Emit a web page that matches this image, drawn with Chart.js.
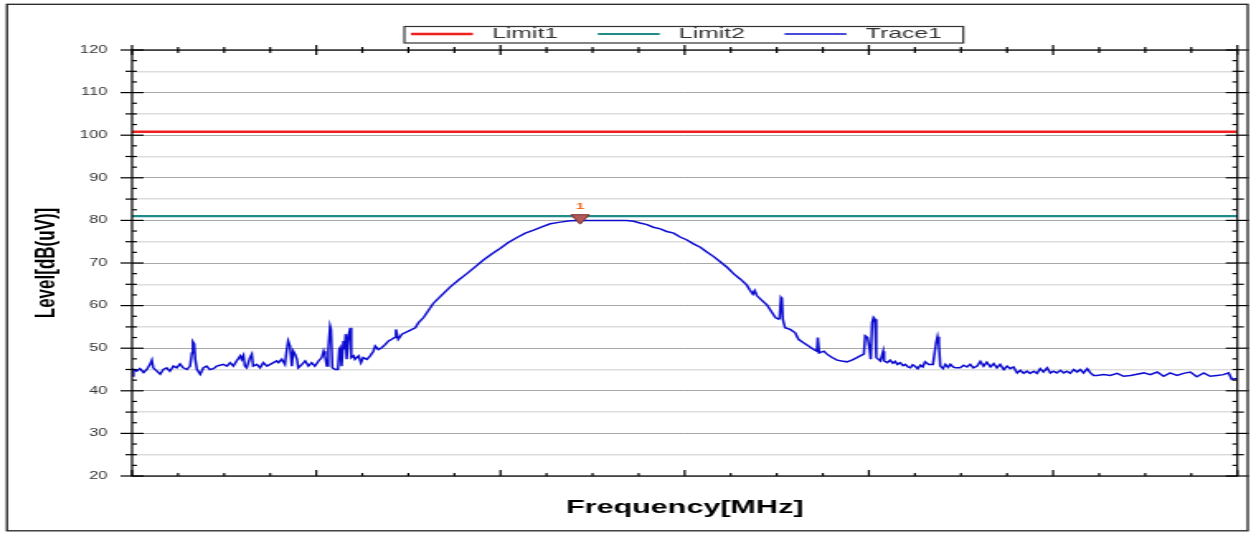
<!DOCTYPE html>
<html>
<head>
<meta charset="utf-8">
<title>Level vs Frequency</title>
<script src="https://cdn.jsdelivr.net/npm/chart.js@4.4.1/dist/chart.umd.min.js"></script>
<style>
    html, body { margin: 0; padding: 0; background: #fff; }
</style>
</head>
<body>
<!-- drawn narrow, shown stretched like the original screenshot -->
<canvas id="chart" width="758" height="533" style="width:1251px;height:533px"></canvas>
<script>
// --- Data ---
const xMin = 0, xMax = 240;          // frequency axis (no labels shown)
const yMin = 20, yMax = 120;         // Level[dB(uV)]

const limit1Freq = [0, 240];
const limit1Level = [100.8, 100.8];
const limit2Freq = [0, 240];
const limit2Level = [81.0, 81.0];

const markerFreq = [97.3];
const markerLevel = [80.6];
const markerText = ['1'];

const traceFreq = [
    0.0, 0.3, 1.0, 1.7, 2.5, 3.2, 3.9, 4.3, 4.6, 5.4, 6.1, 6.8, 7.5, 8.2, 9.0, 9.7,
    10.4, 11.1, 11.9, 12.6, 13.0, 13.2, 13.5, 13.7, 14.1, 14.8, 15.5, 16.2, 16.9, 17.7,
    18.4, 19.1, 19.8, 20.6, 21.3, 22.0, 22.7, 23.5, 23.8, 24.2, 24.5, 24.9, 25.6, 26.0,
    26.3, 27.1, 27.8, 28.5, 29.3, 30.0, 30.7,
    31.4, 31.8, 32.5, 33.2, 33.6, 33.9, 34.3, 34.7, 35.0, 35.4, 35.8, 36.1, 36.9, 37.6,
    38.3, 39.0, 39.7, 40.5, 41.2, 41.6, 41.9, 42.3, 42.6, 43.0, 43.2, 43.5, 44.1, 44.7,
    45.0, 45.2, 45.5, 45.9, 46.1, 46.4, 46.6, 47.0, 47.4, 47.6, 48.1, 48.4, 49.2, 49.7,
    50.2, 51.0, 51.7, 52.4, 52.8, 53.5, 54.2, 55.0, 55.7, 56.4, 57.0, 57.3, 57.8, 58.6,
    60.0, 61.5, 62.2, 63.3,
    65.4, 67.3, 69.1, 70.9, 72.7, 74.5, 76.3, 78.1, 79.9, 81.7, 83.6, 85.4, 87.2, 89.0,
    90.8, 93.0, 95.1, 97.3, 100.2, 102.3, 105.3, 107.4, 108.9, 110.3, 111.8, 113.2, 114.7,
    116.1, 117.6, 119.0, 120.5, 121.9, 123.4, 124.8, 126.3, 127.7, 129.2, 130.6, 132.1,
    133.5, 134.1, 134.8, 135.2, 135.7, 136.7, 137.9,
    139.0, 139.7, 140.4, 140.6, 140.9, 141.1, 141.3, 141.8, 142.9, 144.0, 144.7, 145.8,
    146.9, 148.0, 148.7, 148.9, 149.2, 150.2, 150.9, 152.0, 153.1, 154.1, 155.2, 156.3,
    157.4, 158.1, 158.9, 159.2, 159.7, 160.1, 160.4, 160.7, 161.0, 161.3, 161.6, 162.5,
    163.1, 163.3, 164.0, 164.6, 165.2, 165.7, 166.2, 166.8, 167.4, 167.9, 168.5, 169.0,
    169.5, 170.1, 170.6, 171.2, 171.7, 172.2, 173.0, 173.9, 174.6, 174.9, 175.2, 175.5,
    176.1, 176.6, 177.2, 177.7, 178.3, 178.8,
    179.8, 180.6, 181.3, 182.0, 182.7, 183.5, 184.2, 184.9, 185.6, 186.4, 187.1, 187.8,
    188.5, 189.3, 190.0, 190.7, 191.4, 192.2, 192.9, 193.6, 194.3, 195.0, 195.8, 196.5,
    197.2, 197.9, 198.7, 199.4, 200.1, 200.8, 201.6, 202.3, 203.0, 203.7, 204.5, 205.2,
    205.9, 206.6, 207.4, 208.1, 208.8, 209.5, 211.0, 212.4, 213.9, 215.3, 216.8, 218.2,
    219.7, 221.1, 222.6, 224.0, 225.4, 226.9, 228.3, 229.8, 231.2, 232.7, 234.1, 235.6,
    237.0, 238.1, 238.8, 240.0
];
const traceLevel = [
    43.5, 45.0, 44.6, 45.2, 44.3, 45.0, 46.2, 47.2, 45.4, 44.6, 43.9, 45.0, 45.4, 44.6, 45.8, 45.4,
    46.3, 45.4, 45.0, 45.8, 48.9, 51.5, 51.0, 47.5, 45.0, 43.9, 45.4, 45.8, 45.0, 45.2,
    45.8, 46.0, 46.2, 45.8, 46.6, 45.8, 47.0, 48.2, 47.4, 48.3, 45.8, 45.4, 47.8, 48.6,
    45.8, 46.2, 45.4, 46.6, 45.8, 46.2, 46.6,
    47.0, 46.6, 47.4, 46.2, 49.7, 51.7, 50.5, 45.8, 49.3, 48.6, 47.4, 45.4, 46.2, 47.0,
    45.8, 46.6, 45.8, 47.0, 47.8, 49.3, 48.2, 45.8, 49.7, 55.2, 54.4, 45.4, 45.0, 45.0,
    49.7, 50.1, 45.8, 51.7, 49.7, 53.3, 47.4, 53.0, 54.8, 47.8, 48.2, 47.4, 48.2, 46.6,
    47.8, 47.4, 48.2, 49.3, 50.5, 49.7, 50.1, 50.9, 51.7, 52.1, 52.5, 54.4, 52.1, 53.3,
    54.0, 54.8, 56.0, 57.2,
    60.5, 62.5, 64.4, 66.0, 67.5, 69.1, 70.7, 72.1, 73.4, 74.8, 76.0, 77.0, 77.7, 78.5,
    79.2, 79.6, 79.9, 80.0, 80.0, 80.0, 80.0, 80.0, 79.8, 79.4, 79.0, 78.4, 78.0,
    77.4, 77.0, 76.1, 75.4, 74.5, 73.7, 72.6, 71.5, 70.3, 69.0, 67.5, 66.2,
    64.8, 63.7, 62.7, 63.5, 62.3, 61.3, 60.1,
    58.3, 57.2, 56.8, 57.0, 61.9, 61.6, 56.8, 54.8, 54.4, 53.6, 52.1, 51.3,
    50.5, 49.7, 49.3, 52.5, 48.9, 49.3, 48.6, 47.8, 47.2, 47.0, 46.8, 47.2,
    47.8, 48.2, 48.6, 52.9, 52.5, 50.1, 47.4, 56.0, 57.2, 56.8, 47.8, 47.0,
    49.3, 47.0, 46.6, 47.2, 46.5, 46.9, 46.2, 46.6, 45.9, 46.2, 45.6, 45.4,
    46.1, 45.7, 45.2, 46.0, 45.6, 46.8, 46.2, 46.2, 51.3, 52.7, 50.9, 45.8,
    45.2, 46.2, 45.5, 46.2, 45.6, 45.4,
    45.4, 46.0, 45.6, 46.2, 45.4, 45.8, 46.9, 45.8, 46.7, 45.6, 46.4, 45.4,
    46.2, 45.0, 45.8, 45.2, 45.6, 44.2, 44.8, 44.1, 44.6, 44.1, 44.6, 44.1,
    45.2, 44.4, 45.4, 44.2, 44.6, 44.2, 44.8, 44.2, 44.6, 44.1, 45.0, 44.4,
    45.0, 44.2, 45.2, 44.2, 43.6, 43.6, 43.8, 43.6, 44.1, 43.4, 43.6, 43.9,
    44.2, 43.8, 44.4, 43.4, 44.2, 43.6, 44.1, 44.4, 43.3, 44.2, 43.4, 43.6,
    43.8, 44.2, 42.7, 42.9
];

const toPoints = (xs, ys) => xs.map((x, i) => ({ x: x, y: ys[i] }));

const FONT = "'Liberation Sans', Arial, sans-serif";

// --- Plugins: outer frame, plot box with inward ticks, legend box, marker label ---
const decorations = {
    id: 'decorations',
    afterLayout(chart) {
        // legend row sits a little left of the plot centre in the original
        chart.legend.left -= 5;
        chart.legend.right -= 5;
    },
    afterDatasetsDraw(chart) {
        const { ctx, chartArea: a, scales: { x, y } } = chart;
        ctx.save();
        ctx.strokeStyle = '#000';
        ctx.lineWidth = 1.2;
        ctx.strokeRect(a.left, a.top, a.right - a.left, a.bottom - a.top);

        const seg = (x1, y1, x2, y2) => {
            ctx.beginPath();
            ctx.moveTo(x1, y1);
            ctx.lineTo(x2, y2);
            ctx.stroke();
        };

        y.ticks.forEach(t => {
            const py = y.getPixelForValue(t.value);
            let out = 0, inn = 3;
            if (t.value % 10 === 0) { out = 7; inn = 7; }
            else if (t.value % 5 === 0) { out = 4; inn = 3; }
            seg(a.left - out, py, a.left + inn, py);
            seg(a.right - inn, py, a.right + out, py);
        });
        x.ticks.forEach(t => {
            const px = x.getPixelForValue(t.value);
            const major = t.value % 40 === 0;
            seg(px, a.bottom, px, a.bottom - (major ? 6 : 3));
            seg(px, a.top - (major ? 5 : 3), px, a.top + (major ? 5 : 3));
        });

        // marker label
        const meta = chart.getDatasetMeta(0);
        ctx.fillStyle = '#f26a1b';
        ctx.font = 'bold 9px ' + FONT;
        ctx.textAlign = 'center';
        ctx.textBaseline = 'middle';
        meta.data.forEach((pt, i) => ctx.fillText(markerText[i], pt.x, pt.y - 11));
        ctx.restore();
    },
    afterDraw(chart) {
        const { ctx, legend } = chart;
        ctx.save();
        ctx.strokeStyle = '#222';
        ctx.lineWidth = 1.3;
        ctx.strokeRect(4.2, 4.3, 751.8, 526.5);

        const hb = legend.legendHitBoxes;
        if (hb && hb.length) {
            const first = hb[0], last = hb[hb.length - 1];
            const left = first.left - 4;
            const right = last.left + last.width + 13;
            ctx.lineWidth = 1.2;
            ctx.strokeStyle = '#333';
            ctx.strokeRect(left, first.top, right - left, first.height + 1.5);
        }
        ctx.restore();
    }
};

new Chart(document.getElementById('chart'), {
    type: 'line',
    data: {
        datasets: [
            {
                label: 'Marker1',
                data: toPoints(markerFreq, markerLevel),
                showLine: false,
                pointStyle: 'triangle',
                rotation: 180,
                pointRadius: 6.3,
                backgroundColor: '#b25a5a',
                borderColor: '#7d3030',
                pointBorderWidth: 1
            },
            {
                label: 'Limit1',
                data: toPoints(limit1Freq, limit1Level),
                borderColor: '#f21f1f',
                backgroundColor: '#f21f1f',
                borderWidth: 2.4,
                pointRadius: 0
            },
            {
                label: 'Limit2',
                data: toPoints(limit2Freq, limit2Level),
                borderColor: '#1f8c8a',
                backgroundColor: '#1f8c8a',
                borderWidth: 2.2,
                pointRadius: 0
            },
            {
                label: 'Trace1',
                data: toPoints(traceFreq, traceLevel),
                borderColor: '#0c0cd0',
                backgroundColor: '#0c0cd0',
                borderWidth: 1.5,
                pointRadius: 0,
                tension: 0
            }
        ]
    },
    options: {
        responsive: false,
        animation: false,
        devicePixelRatio: 1,
        layout: { padding: { top: 2.5, left: 0, right: 8.3, bottom: 0 } },
        plugins: {
            tooltip: { enabled: false },
            legend: {
                position: 'top',
                fullSize: false,
                maxHeight: 47.5,
                labels: {
                    usePointStyle: true,
                    pointStyle: 'line',
                    pointStyleWidth: 37.5,
                    boxHeight: 15,
                    padding: 24,
                    color: '#333',
                    font: { family: FONT, size: 15 },
                    filter: item => item.text.indexOf('Marker') === -1,
                    generateLabels: chart =>
                        Chart.defaults.plugins.legend.labels.generateLabels(chart)
                            .map(item => Object.assign(item, { text: ' ' + item.text }))
                }
            }
        },
        scales: {
            x: {
                type: 'linear',
                min: xMin,
                max: xMax,
                ticks: { display: false, stepSize: 10 },
                grid: { display: false, drawTicks: false },
                border: { display: false },
                title: {
                    display: true,
                    text: 'Frequency[MHz]',
                    color: '#000',
                    font: { family: FONT, size: 18.5, weight: 'bold' },
                    padding: { top: 0, bottom: 14 }
                },
                afterFit: s => { s.height = 57; }
            },
            y: {
                min: yMin,
                max: yMax,
                ticks: {
                    stepSize: 2.5,
                    autoSkip: false,
                    padding: 15,
                    color: '#333',
                    font: { family: FONT, size: 10 },
                    callback: v => (v % 10 === 0 ? v : '')
                },
                grid: {
                    drawTicks: false,
                    color: c => c.tick.value % 10 === 0 ? '#a8a8a8'
                        : (c.tick.value % 5 === 0 ? '#dddddd' : 'rgba(0,0,0,0)'),
                    lineWidth: c => c.tick.value % 10 === 0 ? 1 : 1.4
                },
                border: { display: false },
                title: {
                    display: true,
                    text: 'Level[dB(uV)]',
                    color: '#000',
                    font: { family: FONT, size: 17, weight: 'bold' },
                    padding: { top: 18.6, bottom: 0 }
                },
                afterFit: s => { s.width = 80; }
            }
        }
    },
    plugins: [decorations]
});
</script>
</body>
</html>
